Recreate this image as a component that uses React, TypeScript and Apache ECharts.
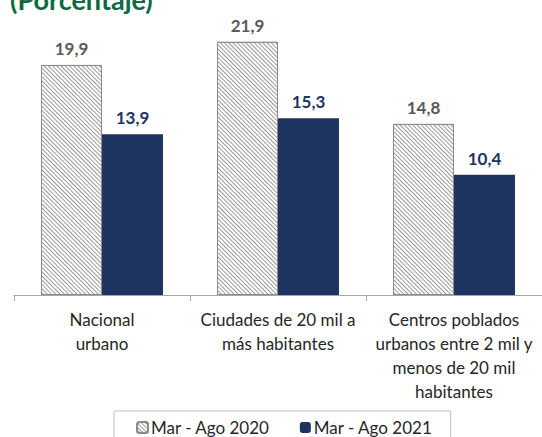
import React, { useEffect, useRef } from "react";
import * as echarts from "echarts";

const categories = [
  "Nacional\nurbano",
  "Ciudades de 20 mil a\nmás habitantes",
  "Centros poblados\nurbanos entre 2 mil y\nmenos de 20 mil\nhabitantes",
];
const seriesNames = ["Mar - Ago 2020", "Mar - Ago 2021"];
const values2020 = [19.9, 21.9, 14.8];
const values2021 = [13.9, 15.3, 10.4];
const titleText = "(Porcentaje)";

const FONT = "Lato, 'Liberation Sans', sans-serif";

export default function App() {
  const ref = useRef<HTMLDivElement>(null);
  useEffect(() => {
    if (!ref.current) return;
    const chart = echarts.init(ref.current, undefined, { renderer: "svg" });
    const fmt = (p: any) => String(p.value).replace(".", ",");
    chart.setOption({
      animation: false,
      backgroundColor: "#ffffff",
      textStyle: { fontFamily: FONT },
      graphic: [
        {
          type: "text",
          left: 10,
          top: -14,
          style: {
            text: titleText,
            fontSize: 27,
            fontWeight: "bold",
            fontFamily: FONT,
            fill: "#0b6a42",
          },
        },
      ],
      grid: { left: 14, top: 6, width: 533, height: 289 },
      xAxis: {
        type: "category",
        data: categories,
        axisLine: { lineStyle: { color: "#a6a6a6", width: 1 } },
        axisTick: { show: true, length: 6, interval: 0, lineStyle: { color: "#a6a6a6" } },
        axisLabel: {
          interval: 0,
          margin: 12,
          fontSize: 17,
          lineHeight: 24,
          color: "#262626",
          fontFamily: FONT,
        },
      },
      yAxis: { type: "value", min: 0, max: 25, show: false, splitLine: { show: false } },
      legend: {
        left: 114,
        top: 411,
        padding: [8, 18, 10, 22],
        itemGap: 30,
        itemWidth: 11,
        itemHeight: 11,
        borderColor: "#bfbfbf",
        borderWidth: 1,
        textStyle: { fontSize: 17, color: "#262626", fontFamily: FONT, padding: [0, 0, 0, -2] },
        data: seriesNames,
      },
      series: [
        {
          name: seriesNames[0],
          type: "bar",
          data: values2020,
          barWidth: 61,
          barGap: "0%",
          itemStyle: {
            color: "#ffffff",
            borderColor: "#8c8c8c",
            borderWidth: 1,
            decal: {
              symbol: "rect",
              symbolSize: 1,
              dashArrayX: [1, 0],
              dashArrayY: [1, 2],
              rotation: Math.PI / 4,
              color: "#999999",
            },
          },
          label: {
            show: true,
            position: "top",
            distance: 8,
            fontSize: 17,
            fontWeight: "bold",
            color: "#595959",
            fontFamily: FONT,
            formatter: fmt,
          },
        },
        {
          name: seriesNames[1],
          type: "bar",
          data: values2021,
          barWidth: 61,
          barGap: "0%",
          itemStyle: { color: "#1f3460" },
          label: {
            show: true,
            position: "top",
            distance: 8,
            fontSize: 17,
            fontWeight: "bold",
            color: "#1f3460",
            fontFamily: FONT,
            formatter: fmt,
          },
        },
      ],
    });
    return () => chart.dispose();
  }, []);
  return (
    <div
      ref={ref}
      style={{ position: "fixed", left: 0, top: 0, width: 542, height: 437 }}
    />
  );
}
